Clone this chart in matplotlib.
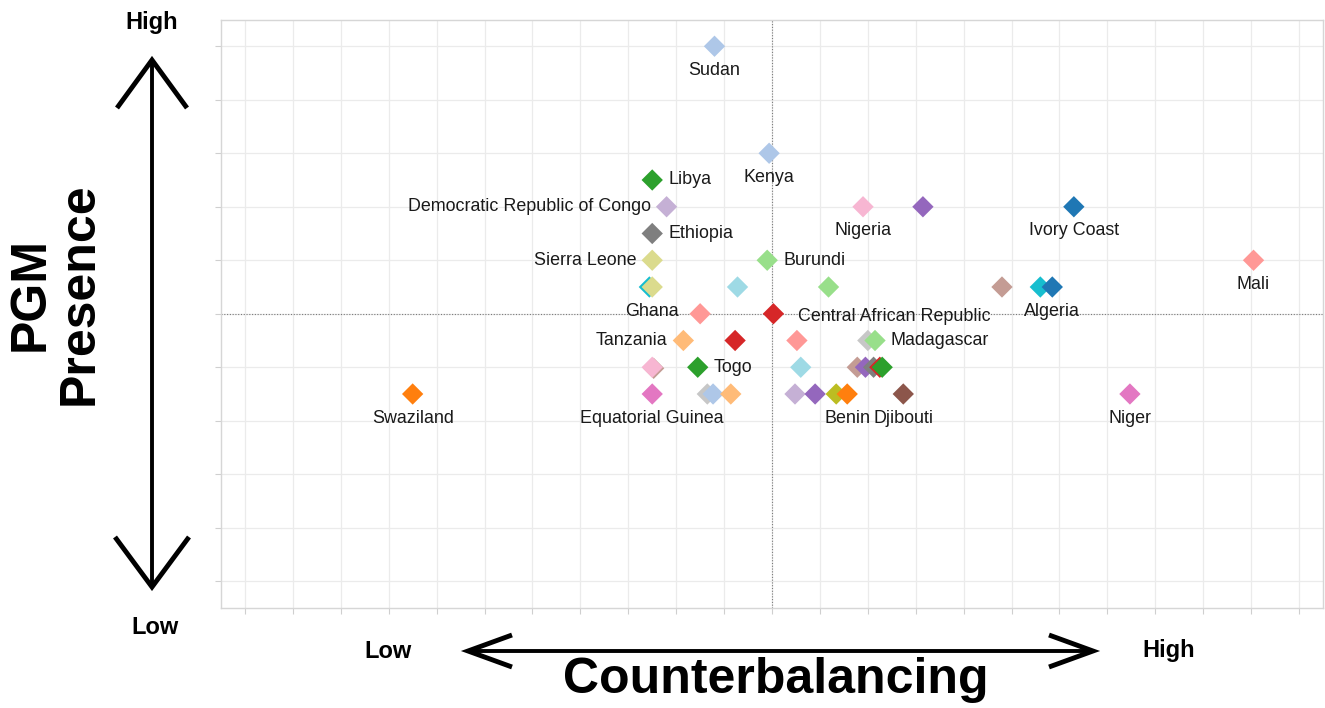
import matplotlib
matplotlib.use("Agg")
import matplotlib.pyplot as plt
from matplotlib.lines import Line2D

plt.rcParams['font.family'] = ['Liberation Sans', 'DejaVu Sans']

# ---------------- data ----------------
countries = ["Sudan", "Kenya", "Libya", "Democratic Republic of Congo", "Ethiopia",
             "Nigeria", "", "Ivory Coast", "Sierra Leone", "Burundi", "Mali",
             "", "Ghana", "", "", "", "", "Algeria",
             "", "Central African Republic",
             "Tanzania", "", "", "", "Madagascar",
             "", "", "Togo", "", "", "", "", "", "",
             "Swaziland", "Equatorial Guinea", "", "", "", "", "", "", "Benin", "Djibouti", "Niger"]
counterbalancing = [-1.2, -0.06, -2.5, -2.2, -2.5,
                    1.9, 3.15, 6.3, -2.5, -0.1, 10.05,
                    -2.56, -2.5, -0.72, 1.18, 4.8, 5.6, 5.85,
                    -1.5, 0.03,
                    -1.85, -0.77, 0.52, 2.0, 2.15,
                    -2.47, -2.5, -1.55, 0.6, 1.78, 1.95, 2.12, 2.25, 2.3,
                    -7.5, -2.5, -1.35, -1.23, -0.86, 0.48, 0.9, 1.34, 1.57, 2.74, 7.47]
pgm_presence = [5.0, 3.0, 2.5, 2.0, 1.5,
                2.0, 2.0, 2.0, 1.0, 1.0, 1.0,
                0.5, 0.5, 0.5, 0.5, 0.5, 0.5, 0.5,
                0.0, 0.0,
                -0.5, -0.5, -0.5, -0.5, -0.5,
                -1.02, -1.0, -1.0, -1.0, -1.0, -1.0, -1.0, -1.0, -1.0,
                -1.5, -1.5, -1.5, -1.5, -1.5, -1.5, -1.5, -1.5, -1.5, -1.5, -1.5]
colors = ["#aec7e8", "#aec7e8", "#2ca02c", "#c5b0d5", "#7f7f7f",
          "#f7b6d2", "#9467bd", "#1f77b4", "#dbdb8d", "#98df8a", "#ff9896",
          "#17becf", "#dbdb8d", "#9edae5", "#98df8a", "#c49c94", "#17becf", "#1f77b4",
          "#ff9896", "#d62728",
          "#ffbb78", "#d62728", "#ff9896", "#c7c7c7", "#98df8a",
          "#c49c94", "#f7b6d2", "#2ca02c", "#9edae5", "#c49c94", "#9467bd", "#7f7f7f", "#d62728", "#2ca02c",
          "#ff7f0e", "#e377c2", "#c7c7c7", "#aec7e8", "#ffbb78", "#c5b0d5", "#9467bd", "#bcbd22", "#ff7f0e", "#8c564b", "#e377c2"]
label_pos = {"Sudan": "below", "Kenya": "below", "Libya": "right",
             "Democratic Republic of Congo": "left", "Ethiopia": "right",
             "Nigeria": "below", "Ivory Coast": "below", "Sierra Leone": "left",
             "Burundi": "right", "Mali": "below", "Ghana": "below", "Algeria": "below",
             "Central African Republic": "rightlow", "Tanzania": "left",
             "Madagascar": "right", "Togo": "right", "Swaziland": "below",
             "Equatorial Guinea": "below", "Benin": "below", "Djibouti": "below",
             "Niger": "below"}

W, H = 1325, 708
fig = plt.figure(figsize=(W / 100, H / 100), dpi=100)
ax = fig.add_axes([221 / W, (H - 608) / H, 1102 / W, 588.5 / H])

ax.set_xlim(-11.5, 11.5)
ax.set_ylim(-5.5, 5.5)
ax.set_xticks(range(-11, 12))
ax.set_yticks(range(-5, 6))
ax.set_xticklabels([])
ax.set_yticklabels([])
ax.tick_params(length=4, color="#cfcfcf", width=0.8)
ax.grid(True, color="#ebebeb", lw=0.9, zorder=0)
ax.set_axisbelow(True)
for s in ax.spines.values():
    s.set_color("#d6d6d6")
    s.set_linewidth(1.0)

ax.axvline(0, color="#7a7a7a", lw=0.8, ls=(0, (1, 1.5)), zorder=1)
ax.axhline(0, color="#7a7a7a", lw=0.8, ls=(0, (1, 1.5)), zorder=1)

ax.scatter(counterbalancing, pgm_presence, c=colors, marker="D", s=118,
           linewidths=0, zorder=3)

for name, x, y in zip(countries, counterbalancing, pgm_presence):
    if not name:
        continue
    pos = label_pos[name]
    if pos == "below":
        off, ha, va = (0, -17.3), "center", "center"
    elif pos == "right":
        off, ha, va = (11.5, 0), "left", "center"
    elif pos == "left":
        off, ha, va = (-11.5, 0), "right", "center"
    else:
        off, ha, va = (17.5, -2.2), "left", "center"
    ax.annotate(name, (x, y), xytext=off, textcoords="offset points",
                ha=ha, va=va, fontsize=12.9, color="#1a1a1a", zorder=4)


def fx(px):
    return px / W


def fy(py):
    return (H - py) / H


def seg(points, lw):
    xs = [fx(p[0]) for p in points]
    ys = [fy(p[1]) for p in points]
    fig.add_artist(Line2D(xs, ys, transform=fig.transFigure, color="black",
                          lw=lw, solid_joinstyle="miter", solid_capstyle="butt"))


# vertical double arrow
seg([(152, 60), (152, 587)], 2.8)
seg([(117, 108), (152, 60), (187, 108)], 3.5)
seg([(115, 537), (152, 587), (189, 537)], 3.5)
# horizontal double arrow
seg([(468, 651), (1093, 651)], 2.8)
seg([(512, 635), (468, 651), (512, 667)], 3.5)
seg([(1049, 635), (1093, 651), (1049, 667)], 3.5)

fig.text(fx(152), fy(22), "High", ha="center", va="center", fontsize=17, fontweight="bold")
fig.text(fx(155), fy(627), "Low", ha="center", va="center", fontsize=17, fontweight="bold")
fig.text(fx(388), fy(651), "Low", ha="center", va="center", fontsize=17, fontweight="bold")
fig.text(fx(1169), fy(651), "High", ha="center", va="center", fontsize=17, fontweight="bold")
fig.text(fx(776), fy(680), "Counterbalancing", ha="center", va="center",
         fontsize=36, fontweight="bold")
fig.text(fx(55), fy(294), "PGM\nPresence", ha="center", va="center", rotation=90,
         fontsize=36, fontweight="bold", linespacing=1.08, multialignment="center")

fig.savefig("out.png", dpi=100)
